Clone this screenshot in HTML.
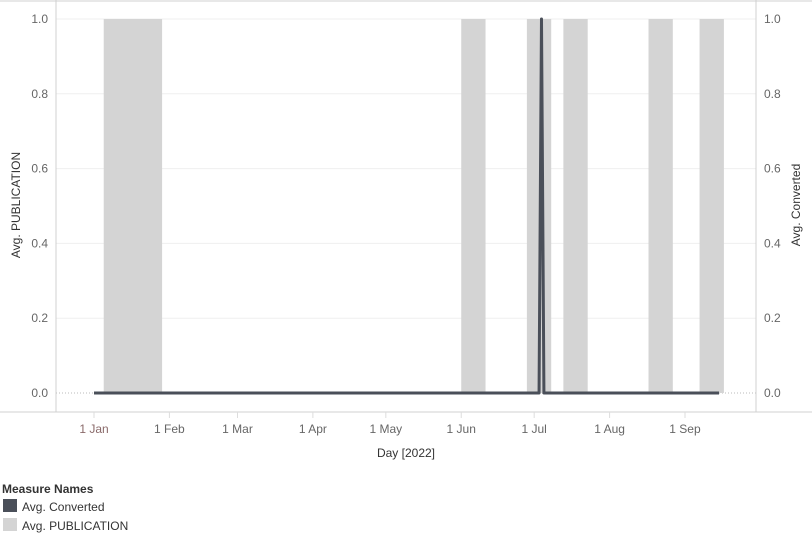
<!DOCTYPE html>
<html><head><meta charset="utf-8"><style>
body{margin:0;background:#fff;width:812px;height:537px;overflow:hidden;font-family:"Liberation Sans",sans-serif}
svg text{font-family:"Liberation Sans",sans-serif}
</style></head><body>
<svg id="c" width="812" height="537" xmlns="http://www.w3.org/2000/svg"></svg>
<script>
const monthLabels=["1 Jan","1 Feb","1 Mar","1 Apr","1 May","1 Jun","1 Jul","1 Aug","1 Sep"];
const monthDays=[0,31,59,90,120,151,181,212,243];
const yTicks=[0,0.2,0.4,0.6,0.8,1.0];
const pubDays=[9,16,23,156,183,198,233,254];
const pubValues=[1,1,1,1,1,1,1,1];
const convDays=[0,183,184,185,257];
const convValues=[0,0,1,0,0];
const pubWidthDays=10;

const svg=document.getElementById('c');
const NS='http://www.w3.org/2000/svg';
const x=d=>94+d*2.432;
const y=v=>393-v*374;
function mk(t,a,p){const e=document.createElementNS(NS,t);for(const k in a)e.setAttribute(k,a[k]);(p||svg).appendChild(e);return e;}

yTicks.forEach(v=>{
  if(v>0){const g=mk('line',{x1:56,x2:756,y1:y(v),y2:y(v),stroke:'#efefef'});
  
  }
});
const zl=mk('line',{x1:56,x2:756,y1:y(0),y2:y(0),stroke:'#bbb','stroke-dasharray':'1,2'});



pubDays.forEach((d,i)=>{
  const r=mk('rect',{x:x(d-pubWidthDays/2),width:pubWidthDays*2.432,y:y(pubValues[i]),height:y(0)-y(pubValues[i]),fill:'#d4d4d4'});
  
  
});

const pts=convDays.map((d,i)=>x(d)+','+y(convValues[i])).join(' ');
const pl=mk('polyline',{points:pts,fill:'none',stroke:'#4a4f59','stroke-width':3,'stroke-linejoin':'round'});



[[56,0,56,412],[756,0,756,412],[0,412,812,412],[0,1,812,1]].forEach(a=>{
  const l=mk('line',{x1:a[0],y1:a[1],x2:a[2],y2:a[3],stroke:'#d0d0d0'});
  
  
});

yTicks.forEach(v=>{
  const t=mk('text',{x:48,y:y(v)+4,'text-anchor':'end','font-size':12,fill:'#666'});t.textContent=v.toFixed(1);
  
  
  const t2=mk('text',{x:764,y:y(v)+4,'font-size':12,fill:'#666'});t2.textContent=v.toFixed(1);
  
  
});
monthDays.forEach((d,i)=>{
  const tk=mk('line',{x1:x(d),x2:x(d),y1:412,y2:418,stroke:'#ddd'});
  
  
  const t=mk('text',{x:x(d),y:433,'text-anchor':'middle','font-size':12,fill:i==0?'#8a6a6a':'#666'});t.textContent=monthLabels[i];
  
  
});
let t=mk('text',{x:406,y:457,'text-anchor':'middle','font-size':12,fill:'#333'});t.textContent='Day [2022]';


t=mk('text',{transform:'translate(20,205) rotate(-90)','text-anchor':'middle','font-size':12,fill:'#333'});t.textContent='Avg. PUBLICATION';


t=mk('text',{transform:'translate(800,205) rotate(-90)','text-anchor':'middle','font-size':12,fill:'#333'});t.textContent='Avg. Converted';



t=mk('text',{x:2,y:493,'font-size':12,'font-weight':'bold',fill:'#333'});t.textContent='Measure Names';


let r=mk('rect',{x:3,y:499,width:14,height:13,fill:'#4a4f59'});


t=mk('text',{x:22,y:511,'font-size':12,fill:'#333'});t.textContent='Avg. Converted';


r=mk('rect',{x:3,y:518,width:14,height:13,fill:'#d4d4d4'});


t=mk('text',{x:22,y:530,'font-size':12,fill:'#333'});t.textContent='Avg. PUBLICATION';


</script>
</body></html>
